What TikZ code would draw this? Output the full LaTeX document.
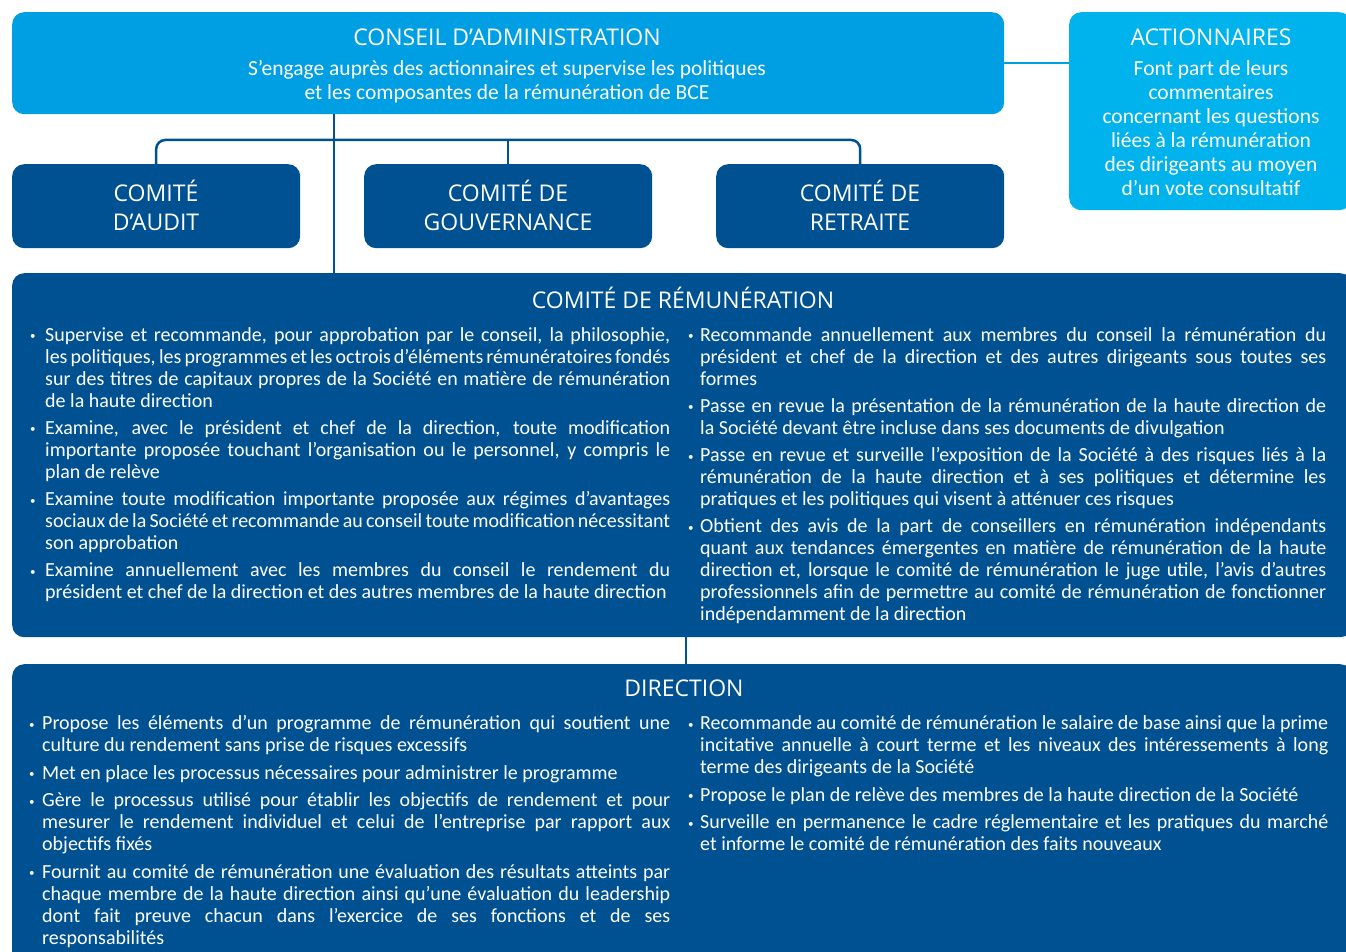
\documentclass[tikz,border=0pt]{standalone}
\usepackage{fontspec}
\setmainfont{Carlito}
\newfontfamily\titlefont{Open Sans}
\definecolor{lblue}{HTML}{009FE3}
\definecolor{ablue}{HTML}{00B3EC}
\definecolor{dblue}{HTML}{005192}
\newlength{\hangw}
\newcommand{\itm}[1]{\par\hangindent=\hangw\hangafter=1\noindent\makebox[\hangw][l]{\raisebox{1.5pt}{\fontsize{11}{11}\selectfont\textbullet}}#1\par}
\tikzset{
  lightbox/.style={fill=lblue, rounded corners=12pt, inner sep=0pt, anchor=north west},
  actbox/.style={fill=ablue, rounded corners=12pt, inner sep=0pt, anchor=north west},
  darkbox/.style={fill=dblue, rounded corners=12pt, inner sep=0pt, anchor=north west},
  ttl/.style={text=white, font=\titlefont\fontsize{23}{29}\selectfont, align=center, inner sep=0pt, anchor=base},
  sub/.style={text=white, font=\fontsize{21.5}{24}\selectfont, align=center, inner sep=0pt, anchor=base},
  col/.style={text=white, font=\fontsize{20}{22}\selectfont, align=justify, inner sep=0pt, anchor=base west},
  darkline/.style={draw=dblue, line width=2.5pt},
  lightline/.style={draw=lblue, line width=2.5pt}
}
\begin{document}
\begin{tikzpicture}[x=1pt,y=-1pt]
\useasboundingbox (0,0) rectangle (1346,952);
\clip (0,0) rectangle (1346,952);
% boxes
\node[lightbox, minimum width=992pt, minimum height=102pt] (conseil) at (12,12) {};
\node[actbox, minimum width=282pt, minimum height=198pt] (action) at (1069,12) {};
\node[darkbox, minimum width=288pt, minimum height=84pt] (audit) at (12,164) {};
\node[darkbox, minimum width=288pt, minimum height=84pt] (gouv) at (364,164) {};
\node[darkbox, minimum width=288pt, minimum height=84pt] (retraite) at (716,164) {};
\node[darkbox, minimum width=1340pt, minimum height=364pt] (rem) at (12,273) {};
\node[darkbox, minimum width=1340pt, minimum height=320pt] (dir) at (12,664) {};
% connectors
\coordinate (v1) at (334,0);
\coordinate (h) at (0,140);
\coordinate (v2) at (686,0);
\draw[lightline] (conseil.east) -- (conseil.east -| action.west);
\draw[darkline] (conseil.south -| v1) -- (rem.north -| v1);
\draw[darkline, rounded corners=9pt] (audit.north) -- (audit.north |- h) -- (retraite.north |- h) -- (retraite.north);
\draw[darkline] (gouv.north) -- (gouv.north |- h);
\draw[darkline] (rem.south -| v2) -- (dir.north -| v2);
% texts
\node[ttl] (conseilT) at (507,46) {CONSEIL D’ADMINISTRATION};
\node[sub] (conseilS) at (507,100) {S’engage auprès des actionnaires et supervise les politiques\\et les composantes de la rémunération de BCE};
\node[ttl] (actionT) at (1211,46) {ACTIONNAIRES};
\node[sub] (actionS) at (1211,196) {Font part de leurs\\commentaires\\concernant les questions\\liées à la rémunération\\des dirigeants au moyen\\d’un vote consultatif};
\node[ttl] (auditT) at (156,230) {COMITÉ\\D’AUDIT};
\node[ttl] (gouvT) at (508,230) {COMITÉ DE\\GOUVERNANCE};
\node[ttl] (retraiteT) at (860,230) {COMITÉ DE\\RETRAITE};
\node[ttl] (remT) at (683,308) {COMITÉ DE RÉMUNÉRATION};
\node[ttl] (dirT) at (684,696) {DIRECTION};
% remuneration columns
\node[col, text width=640pt] (remL) at (30,314) {\setlength{\hangw}{15pt}\setlength{\parskip}{5.2pt}%
\itm{Supervise et recommande, pour approbation par le conseil, la philosophie,\linebreak les politiques, les programmes et les octrois d’éléments rémunératoires fondés\linebreak sur des titres de capitaux propres de la Société en matière de rémunération\linebreak de la haute direction}
\itm{Examine, avec le président et chef de la direction, toute modification\linebreak importante proposée touchant l’organisation ou le personnel, y compris le\linebreak plan de relève}
\itm{Examine toute modification importante proposée aux régimes d’avantages\linebreak sociaux de la Société et recommande au conseil toute modification nécessitant\linebreak son approbation}
\itm{Examine annuellement avec les membres du conseil le rendement du\linebreak président et chef de la direction et des autres membres de la haute direction}};
\node[col, text width=638pt] (remR) at (688,314) {\setlength{\hangw}{12pt}\setlength{\parskip}{5.2pt}%
\itm{Recommande annuellement aux membres du conseil la rémunération du\linebreak président et chef de la direction et des autres dirigeants sous toutes ses\linebreak formes}
\itm{Passe en revue la présentation de la rémunération de la haute direction de\linebreak la Société devant être incluse dans ses documents de divulgation}
\itm{Passe en revue et surveille l’exposition de la Société à des risques liés à la\linebreak rémunération de la haute direction et à ses politiques et détermine les\linebreak pratiques et les politiques qui visent à atténuer ces risques}
\itm{Obtient des avis de la part de conseillers en rémunération indépendants\linebreak quant aux tendances émergentes en matière de rémunération de la haute\linebreak direction et, lorsque le comité de rémunération le juge utile, l’avis d’autres\linebreak professionnels afin de permettre au comité de rémunération de fonctionner\linebreak indépendamment de la direction}};
% direction columns
\node[col, text width=641pt] (dirL) at (29,702) {\setlength{\hangw}{13pt}\setlength{\parskip}{5.5pt}%
\itm{Propose les éléments d’un programme de rémunération qui soutient une\linebreak culture du rendement sans prise de risques excessifs}
\itm{Met en place les processus nécessaires pour administrer le programme}
\itm{Gère le processus utilisé pour établir les objectifs de rendement et pour\linebreak mesurer le rendement individuel et celui de l’entreprise par rapport aux\linebreak objectifs fixés}
\itm{Fournit au comité de rémunération une évaluation des résultats atteints par\linebreak chaque membre de la haute direction ainsi qu’une évaluation du leadership\linebreak dont fait preuve chacun dans l’exercice de ses fonctions et de ses\linebreak responsabilités}};
\node[col, text width=640pt] (dirR) at (688,702) {\setlength{\hangw}{12pt}\setlength{\parskip}{5.5pt}%
\itm{Recommande au comité de rémunération le salaire de base ainsi que la prime\linebreak incitative annuelle à court terme et les niveaux des intéressements à long\linebreak terme des dirigeants de la Société}
\itm{Propose le plan de relève des membres de la haute direction de la Société}
\itm{Surveille en permanence le cadre réglementaire et les pratiques du marché\linebreak et informe le comité de rémunération des faits nouveaux}};
\end{tikzpicture}
\end{document}
